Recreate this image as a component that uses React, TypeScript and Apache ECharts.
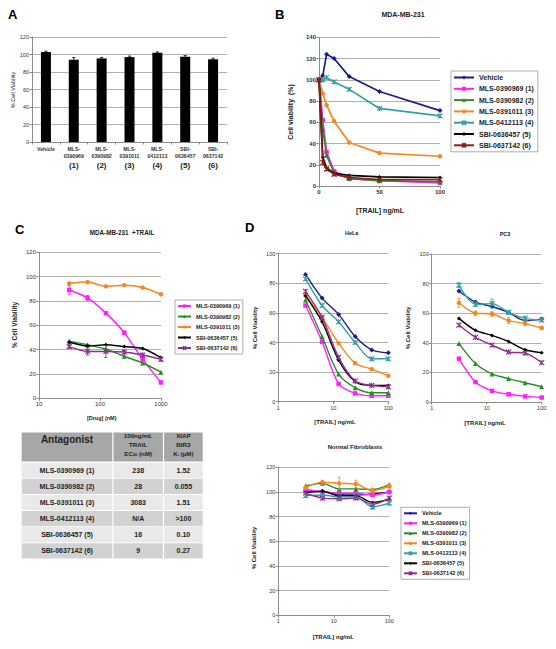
import { useEffect, useRef } from "react";
import * as echarts from "echarts";

const FONT = "'Liberation Sans', Arial, Helvetica, sans-serif";

// ---------- shared ----------
const compounds = [
  "Vehicle",
  "MLS-0390969 (1)",
  "MLS-0390982 (2)",
  "MLS-0391011 (3)",
  "MLS-0412113 (4)",
  "SBI-0636457 (5)",
  "SBI-0637142 (6)",
];

// ---------- Panel A ----------
const aCategories = ["Vehicle", "MLS-0390969", "MLS-0390982", "MLS-0391011", "MLS-0412113", "SBI-0636457", "SBI-0637142"];
const aNumbers = ["", "(1)", "(2)", "(3)", "(4)", "(5)", "(6)"];
const aViability = [103, 94, 95.5, 97, 102, 97.5, 94.5];
const aError = [0.8, 2.5, 1.2, 1.2, 1, 1.2, 1.2];

// ---------- Panel B (MDA-MB-231) ----------
const bDose = [0, 3.125, 6.25, 12.5, 25, 50, 100];
const bVehicle = [100, 104, 124, 120, 103, 89, 71];
const bMLS1 = [100, 62, 32, 14, 7, 5, 3];
const bMLS2 = [100, 53, 29, 12, 7, 5, 4];
const bMLS3 = [100, 87, 76, 61, 41, 31, 28];
const bMLS4 = [100, 100, 102, 98, 91, 73, 66];
const bSBI5 = [100, 27, 17, 12, 10, 8.5, 8];
const bSBI6 = [100, 22, 16, 11, 8, 6, 6];

// ---------- Panel C (MDA-MB-231 + TRAIL) ----------
const cDrug = [31.25, 62.5, 125, 250, 500, 1000];
const cMLS1 = [89, 82.5, 70, 54, 32, 13];
const cMLS2 = [47, 44, 40.5, 34.5, 29, 21.5];
const cMLS3 = [94.5, 95.5, 92, 93, 91, 85.5];
const cSBI5 = [46, 43, 44, 42.5, 41, 33.5];
const cSBI6 = [42.5, 38.5, 38.5, 38, 35.5, 32];
const cErrMLS1 = [3.5, 2, 1, 1, 1.5, 1];
const cErrSBI6 = [1.5, 3, 5, 1.5, 1.5, 1.5];

// ---------- Table ----------
const tableAntagonists = ["MLS-0390969 (1)", "MLS-0390982 (2)", "MLS-0391011 (3)", "MLS-0412113 (4)", "SBI-0636457 (5)", "SBI-0637142 (6)"];
const tableEC50 = ["238", "28", "3083", "N/A", "16", "9"];
const tableKi = ["1.52", "0.055", "1.51", ">100", "0.10", "0.27"];

// ---------- Panel D ----------
const dTrail = [3.125, 6.25, 12.5, 25, 50, 100];
// HeLa
const helaVehicle = [86, 70, 59, 44, 35, 33];
const helaMLS1 = [65, 40.5, 12, 5.6, 4, 4];
const helaMLS2 = [68.7, 44, 18.7, 9.5, 6, 6];
const helaMLS3 = [72, 57, 39.5, 26, 22, 17.5];
const helaMLS4 = [83, 65, 54, 40, 29, 29];
const helaSBI5 = [71.5, 54, 28, 13.5, 11, 11];
const helaSBI6 = [74.5, 57, 30, 14, 11, 10];
// PC3
const pc3Vehicle = [75, 67.5, 64.5, 60.5, 55, 56];
const pc3MLS1 = [29.3, 13.5, 7.5, 5.2, 3.8, 3];
const pc3MLS2 = [39.6, 26, 19, 15.8, 13, 10.3];
const pc3MLS3 = [67, 60, 59.5, 55, 53, 50];
const pc3MLS4 = [79, 66, 66.5, 60.5, 56.5, 55.4];
const pc3SBI5 = [56.5, 48.4, 45, 40.8, 35.3, 33.3];
const pc3SBI6 = [52, 43.7, 38.5, 33.8, 33, 26.6];
const pc3ErrMLS3 = [3, 1.5, 1.5, 2, 1.5, 1];
const pc3ErrMLS4 = [1.5, 1.5, 3, 1.5, 1.5, 1];
// Normal fibroblasts
const nfVehicle = [100.5, 100.5, 98, 97.5, 98.5, 100];
const nfMLS1 = [102, 100, 99, 99, 97.5, 100];
const nfMLS2 = [105, 107, 102.5, 102.5, 102, 106];
const nfMLS3 = [103.5, 108, 107, 106.5, 101, 104.5];
const nfMLS4 = [97, 97.5, 96, 96, 88, 91];
const nfSBI5 = [99.5, 100.5, 97, 97, 91.5, 94];
const nfSBI6 = [99, 95, 94.5, 95, 90, 95];
const nfErrMLS3 = [1.5, 1.5, 5, 3, 1.5, 1.5];
const nfErrMLS4 = [1.5, 1.5, 1.5, 1.5, 2, 1.5];

// ---------- styles ----------
const NAVY = "#1c1c8a";
const MAGENTA = "#ff1fff";
const GREEN = "#2c8c2c";
const ORANGE = "#f7861f";
const TEAL = "#35a0a0";
const BLACK = "#000000";
const DARKRED = "#8e1f1f";
const PURPLE = "#8e2f8e";
const XSYM = "path://M0,0L10,10M10,0L0,10M5,0L5,10";

const symbols = ["diamond", "rect", "triangle", "circle", XSYM, "diamond", XSYM];
const sizes = [5, 4.5, 5, 4.5, 5, 4, 5];
const bColors = [NAVY, MAGENTA, GREEN, ORANGE, TEAL, BLACK, DARKRED];
const dColors = [NAVY, MAGENTA, GREEN, ORANGE, TEAL, BLACK, PURPLE];

function lineSeries(prefix: string, idx: number, xs: number[], ys: number[], axis: number, colors: string[], smooth: number | boolean, width = 1.5) {
  const color = colors[idx];
  const isPath = symbols[idx].startsWith("path://");
  return {
    type: "line",
    name: prefix + "|" + compounds[idx],
    xAxisIndex: axis,
    yAxisIndex: axis,
    data: xs.map((x, i) => [x, ys[i]]),
    symbol: symbols[idx],
    symbolSize: sizes[idx],
    showSymbol: true,
    smooth,
    lineStyle: { color, width },
    itemStyle: { color, borderColor: color, borderWidth: isPath ? 1.1 : 0 },
    z: 2 + idx * 0.01,
    silent: true,
  };
}

function errorSeries(axis: number, items: [number, number, number, string][]) {
  return {
    type: "custom",
    xAxisIndex: axis,
    yAxisIndex: axis,
    silent: true,
    z: 4,
    data: items.map((it) => [it[0], it[1], it[2]]),
    renderItem: (params: any, api: any) => {
      const x = api.value(0);
      const a = api.coord([x, api.value(1)]);
      const b = api.coord([x, api.value(2)]);
      const color = items[params.dataIndex][3];
      const w = 1.6;
      const st = { stroke: color, lineWidth: 0.8 };
      return {
        type: "group",
        children: [
          { type: "line", shape: { x1: a[0], y1: a[1], x2: b[0], y2: b[1] }, style: st },
          { type: "line", shape: { x1: a[0] - w, y1: a[1], x2: a[0] + w, y2: a[1] }, style: st },
          { type: "line", shape: { x1: b[0] - w, y1: b[1], x2: b[0] + w, y2: b[1] }, style: st },
        ],
      };
    },
  };
}

function errItems(xs: number[], ys: number[], errs: number[], color: string): [number, number, number, string][] {
  return xs.map((x, i) => [x, ys[i] - errs[i], ys[i] + errs[i], color]);
}

const axisBase = (fs: number, bold: boolean) => ({
  axisLine: { show: true, onZero: false, lineStyle: { color: "#8c8c8c", width: 1 } },
  axisTick: { show: true, length: 2.5, lineStyle: { color: "#8c8c8c" } },
  axisLabel: {
    fontSize: fs,
    fontWeight: bold ? "bold" : "normal",
    color: "#333",
    margin: 3,
    fontFamily: FONT,
    showMinLabel: true,
    showMaxLabel: true,
    formatter: (v: number) => String(v),
  },
  splitLine: { show: false },
});

const yAx = (grid: number, max: number, fs: number, bold: boolean) => ({
  ...axisBase(fs, bold),
  type: "value",
  gridIndex: grid,
  min: 0,
  max,
  interval: 20,
  splitLine: { show: true, lineStyle: { color: "#b0b0b0", width: 1 } },
});

const logX = (grid: number, min: number, max: number, fs: number, bold: boolean) => ({
  ...axisBase(fs, bold),
  type: "log",
  logBase: 10,
  gridIndex: grid,
  min,
  max,
});

function txt(text: string, x: number, y: number, fontSize: number, bold: boolean, opt: any = {}) {
  return {
    type: "text",
    x,
    y,
    rotation: opt.rot || 0,
    silent: true,
    z: 10,
    style: {
      text,
      fontSize,
      fontWeight: bold ? "bold" : "normal",
      fontFamily: FONT,
      fill: opt.fill || "#222",
      align: opt.align || "center",
      verticalAlign: "middle",
      rich: opt.rich,
    },
  };
}

function buildTable() {
  const els: any[] = [];
  const cols = [
    [21.7, 112.3],
    [113.5, 162.9],
    [164.1, 202.7],
  ];
  const headTop = 432.5;
  const headH = 29;
  cols.forEach(([x0, x1]) => {
    els.push({ type: "rect", shape: { x: x0, y: headTop, width: x1 - x0, height: headH }, style: { fill: "#a7a7a7" }, silent: true });
  });
  const rowTop = 462.7;
  const rowStep = 16.1;
  const rowH = 15.2;
  tableAntagonists.forEach((name, i) => {
    const y = rowTop + rowStep * i;
    const fill = i % 2 === 0 ? "#e9e9e9" : "#d2d2d2";
    cols.forEach(([x0, x1]) => {
      els.push({ type: "rect", shape: { x: x0, y, width: x1 - x0, height: rowH }, style: { fill }, silent: true });
    });
    const cy = y + rowH / 2;
    els.push(txt(name, (cols[0][0] + cols[0][1]) / 2, cy, 7, true));
    els.push(txt(tableEC50[i], (cols[1][0] + cols[1][1]) / 2, cy, 7, true));
    els.push(txt(tableKi[i], (cols[2][0] + cols[2][1]) / 2, cy, 7, true));
  });
  const c1 = (cols[0][0] + cols[0][1]) / 2;
  const c2 = (cols[1][0] + cols[1][1]) / 2;
  const c3 = (cols[2][0] + cols[2][1]) / 2;
  els.push(txt("Antagonist", c1, 439, 10, true));
  const rich = {
    n: { fontSize: 6.2, fontWeight: "bold", fontFamily: FONT, fill: "#222", lineHeight: 7 },
    s: { fontSize: 4, fontWeight: "bold", fontFamily: FONT, fill: "#222", lineHeight: 4, verticalAlign: "bottom" },
  };
  els.push(txt("100ng/mL", c2, 435.5, 6.2, true));
  els.push(txt("TRAIL", c2, 444.5, 6.2, true));
  els.push(txt("{n|EC}{s|50}{n| (nM)}", c2, 453.3, 6.2, true, { rich }));
  els.push(txt("XIAP", c3, 435.5, 6.2, true));
  els.push(txt("BIR3", c3, 444.5, 6.2, true));
  els.push(txt("{n|K}{s|i}{n| (µM)}", c3, 453.3, 6.2, true, { rich }));
  return els;
}

export default function App() {
  const ref = useRef<HTMLDivElement>(null);
  useEffect(() => {
    if (!ref.current) return;
    const chart = echarts.init(ref.current, undefined, { renderer: "svg" });

    const bData = [bVehicle, bMLS1, bMLS2, bMLS3, bMLS4, bSBI5, bSBI6];
    const cIdx = [1, 2, 3, 5, 6];
    const cData = [cMLS1, cMLS2, cMLS3, cSBI5, cSBI6];
    const helaData = [helaVehicle, helaMLS1, helaMLS2, helaMLS3, helaMLS4, helaSBI5, helaSBI6];
    const pc3Data = [pc3Vehicle, pc3MLS1, pc3MLS2, pc3MLS3, pc3MLS4, pc3SBI5, pc3SBI6];
    const nfData = [nfVehicle, nfMLS1, nfMLS2, nfMLS3, nfMLS4, nfSBI5, nfSBI6];

    const series: any[] = [];
    // A
    series.push({
      type: "bar",
      xAxisIndex: 0,
      yAxisIndex: 0,
      data: aViability,
      barWidth: 10,
      itemStyle: { color: "#000" },
      silent: true,
    });
    series.push(errorSeries(0, aViability.map((v, i) => [i, v - aError[i], v + aError[i], "#000"] as [number, number, number, string])));
    // B
    bData.forEach((d, i) => series.push(lineSeries("B", i, bDose, d, 1, bColors, false, 1.7)));
    // C
    cIdx.forEach((ci, k) => series.push(lineSeries("C", ci, cDrug, cData[k], 2, dColors, 0.25, 1.5)));
    series.push(errorSeries(2, [...errItems(cDrug, cMLS1, cErrMLS1, MAGENTA), ...errItems(cDrug, cSBI6, cErrSBI6, PURPLE)]));
    // HeLa
    helaData.forEach((d, i) => series.push(lineSeries("H", i, dTrail, d, 3, dColors, 0.3, 1.4)));
    // PC3
    pc3Data.forEach((d, i) => series.push(lineSeries("P", i, dTrail, d, 4, dColors, 0.3, 1.4)));
    series.push(errorSeries(4, [...errItems(dTrail, pc3MLS3, pc3ErrMLS3, ORANGE), ...errItems(dTrail, pc3MLS4, pc3ErrMLS4, TEAL)]));
    // Normal fibroblasts
    nfData.forEach((d, i) => series.push(lineSeries("N", i, dTrail, d, 5, dColors, 0.3, 1.4)));
    series.push(errorSeries(5, [...errItems(dTrail, nfMLS3, nfErrMLS3, ORANGE), ...errItems(dTrail, nfMLS4, nfErrMLS4, TEAL)]));

    const legendBase = {
      orient: "vertical",
      selectedMode: false,
      borderColor: "#999",
      borderWidth: 0.8,
      borderRadius: 0,
      backgroundColor: "#fff",
      formatter: (n: string) => n.split("|")[1],
      inactiveColor: "#ccc",
    };

    const option: any = {
      animation: false,
      backgroundColor: "#fff",
      textStyle: { fontFamily: FONT },
      grid: [
        { left: 32, top: 37, width: 195, height: 105 },
        { left: 319, top: 37.3, width: 121, height: 148.7 },
        { left: 39, top: 252.3, width: 122, height: 146 },
        { left: 278.3, top: 253.7, width: 110, height: 148 },
        { left: 431.7, top: 254, width: 110, height: 148 },
        { left: 278.3, top: 467.3, width: 111, height: 148 },
      ],
      xAxis: [
        {
          ...axisBase(5.2, true),
          type: "category",
          gridIndex: 0,
          data: aCategories,
          axisLabel: {
            interval: 0,
            margin: 3,
            color: "#333",
            formatter: (v: string, i: number) => {
              if (i === 0) return "{a|" + v + "}";
              const p = v.indexOf("-");
              return "{a|" + v.slice(0, p + 1) + "}\n{a|" + v.slice(p + 1) + "}\n{b|" + aNumbers[i] + "}";
            },
            rich: {
              a: { fontSize: 5.2, fontWeight: "bold", color: "#333", lineHeight: 7, fontFamily: FONT },
              b: { fontSize: 8, fontWeight: "bold", color: "#222", lineHeight: 12, fontFamily: FONT },
            },
          },
        },
        { ...axisBase(6, true), type: "value", gridIndex: 1, min: 0, max: 100, interval: 50 },
        logX(2, 10, 1000, 6, false),
        logX(3, 1, 100, 5.5, false),
        logX(4, 1, 100, 5.5, false),
        logX(5, 1, 100, 5.5, false),
      ],
      yAxis: [
        yAx(0, 120, 5.5, false),
        yAx(1, 140, 6, true),
        yAx(2, 120, 6, false),
        yAx(3, 100, 5.5, false),
        yAx(4, 100, 5.5, false),
        yAx(5, 120, 5.5, false),
      ],
      legend: [
        {
          ...legendBase,
          left: 451,
          top: 71,
          padding: [3, 4, 3, 2],
          itemWidth: 20,
          itemHeight: 5,
          itemGap: 4.3,
          textStyle: { fontSize: 7, fontWeight: "bold", color: "#222", fontFamily: FONT },
          data: compounds.map((c) => "B|" + c),
        },
        {
          ...legendBase,
          left: 175,
          top: 300,
          padding: [3, 3, 3, 2],
          itemWidth: 13,
          itemHeight: 4,
          itemGap: 4.5,
          textStyle: { fontSize: 5.6, fontWeight: "bold", color: "#222", fontFamily: FONT },
          data: [1, 2, 3, 5, 6].map((i) => "C|" + compounds[i]),
        },
        {
          ...legendBase,
          left: 401,
          top: 507.3,
          padding: [3, 3, 3, 2],
          itemWidth: 13,
          itemHeight: 4,
          itemGap: 4,
          textStyle: { fontSize: 5.7, fontWeight: "bold", color: "#222", fontFamily: FONT },
          data: compounds.map((c) => "N|" + c),
        },
      ],
      series,
      graphic: [
        // panel letters
        txt("A", 8, 14.7, 13, true, { align: "left", fill: "#000" }),
        txt("B", 275, 14.7, 13, true, { align: "left", fill: "#000" }),
        txt("C", 15, 229.7, 13, true, { align: "left", fill: "#000" }),
        txt("D", 245, 227.7, 13, true, { align: "left", fill: "#000" }),
        // titles
        txt("MDA-MB-231", 403, 14, 7, true),
        txt("MDA-MB-231  +TRAIL", 122, 232.3, 6.3, true),
        txt("HeLa", 351.7, 233.3, 5.5, true),
        txt("PC3", 505, 234.3, 5.5, true),
        txt("Normal Fibroblasts", 355, 446.7, 6, true),
        // axis titles
        txt("% Cell Viability", 13, 90, 5.5, false, { rot: Math.PI / 2 }),
        txt("Cell viability  (%)", 290, 112, 7, true, { rot: Math.PI / 2 }),
        txt("[TRAIL] ng/mL", 380, 210.7, 7, true),
        txt("% Cell Viability", 14, 325, 6.5, true, { rot: Math.PI / 2 }),
        txt("[Drug] (nM)", 101.7, 417.7, 5.5, true),
        txt("% Cell Viability", 255, 328, 6, true, { rot: Math.PI / 2 }),
        txt("[TRAIL] ng/mL", 335, 422.3, 6, true),
        txt("% Cell Viability", 408, 328, 6, true, { rot: Math.PI / 2 }),
        txt("[TRAIL] ng/mL", 485, 422.7, 6, true),
        txt("% Cell Viability", 254, 548, 6, true, { rot: Math.PI / 2 }),
        txt("[TRAIL] ng/mL", 333.3, 637, 6, true),
        ...buildTable(),
      ],
    };

    chart.setOption(option);
    return () => chart.dispose();
  }, []);

  return <div ref={ref} style={{ position: "absolute", left: 0, top: 0, width: 556, height: 649, background: "#fff" }} />;
}
